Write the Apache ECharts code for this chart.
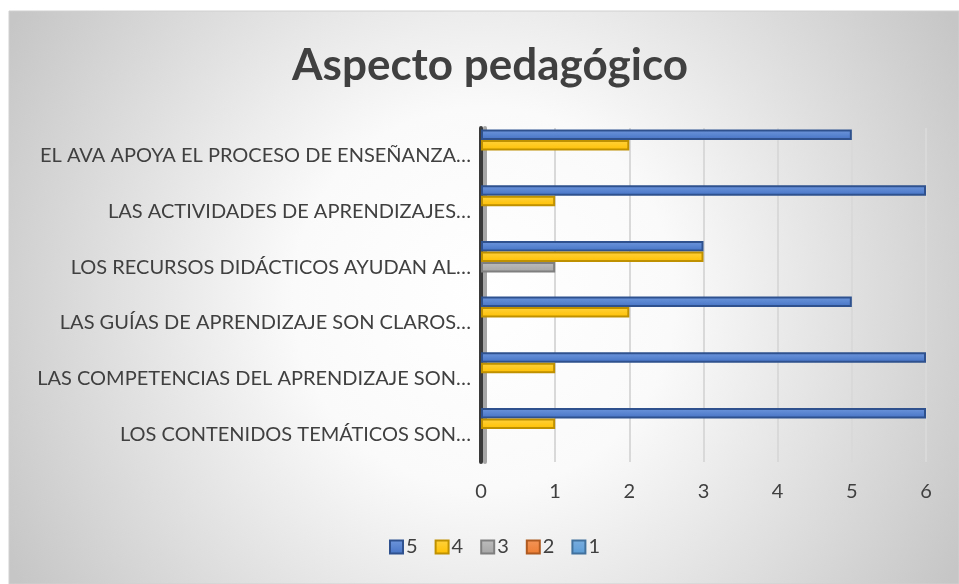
<!DOCTYPE html>
<html>
<head>
<meta charset="utf-8">
<title>Aspecto pedagógico</title>
<script src="https://cdn.jsdelivr.net/npm/echarts@6/dist/echarts.min.js"></script>
<style>
  html, body { margin: 0; padding: 0; background: #fff; }
  #chart { width: 959px; height: 584px; }
</style>
</head>
<body>
<div id="chart"></div>
<script>
// categories, bottom to top as the y axis draws them
const categories = [
  'LOS CONTENIDOS TEMÁTICOS SON…',
  'LAS COMPETENCIAS DEL APRENDIZAJE SON…',
  'LAS GUÍAS DE APRENDIZAJE SON CLAROS…',
  'LOS RECURSOS DIDÁCTICOS AYUDAN AL…',
  'LAS ACTIVIDADES DE APRENDIZAJES…',
  'EL AVA APOYA EL PROCESO DE ENSEÑANZA…'
];
const seriesNames = ['5', '4', '3', '2', '1'];
const values5 = [6, 6, 5, 3, 6, 5];
const values4 = [1, 1, 2, 3, 1, 2];
const values3 = [0, 0, 0, 1, 0, 0];
const values2 = [0, 0, 0, 0, 0, 0];
const values1 = [0, 0, 0, 0, 0, 0];
const xTicks = [0, 1, 2, 3, 4, 5, 6];

const FONT = 'Lato, "Open Sans", sans-serif';
const TEXT = '#404040';

// fill (top, bottom) and border for each series
const palette = [
  { top: '#6f97dc', bottom: '#4472c4', border: '#2f528f' },
  { top: '#ffd23f', bottom: '#ffc000', border: '#bf9000' },
  { top: '#bdbdbd', bottom: '#a5a5a5', border: '#7f7f7f' },
  { top: '#f3955a', bottom: '#ed7d31', border: '#ae5a21' },
  { top: '#7aaee0', bottom: '#5b9bd5', border: '#41719c' }
];
const allValues = [values5, values4, values3, values2, values1];

const chart = echarts.init(document.getElementById('chart'), null, { renderer: 'canvas' });

const series = seriesNames.map((name, i) => ({
  name,
  type: 'bar',
  // a zero bar draws nothing in the original, so drop its border
  data: allValues[i].map(v => (v === 0 ? { value: v, itemStyle: { borderWidth: 0 } } : v)),
  barWidth: 10.5,
  barGap: '0%',
  itemStyle: {
    color: new echarts.graphic.LinearGradient(0, 0, 0, 1, [
      { offset: 0, color: palette[i].top },
      { offset: 1, color: palette[i].bottom }
    ]),
    borderColor: palette[i].border,
    borderWidth: 2
  },
  emphasis: { disabled: true }
}));

chart.setOption({
  animation: false,
  backgroundColor: '#ffffff',
  graphic: [
    {
      type: 'rect',
      z: -10,
      silent: true,
      shape: { x: 9, y: 11, width: 950, height: 573 },
      style: {
        fill: new echarts.graphic.RadialGradient(0.5, 0.5, 0.95, [
          { offset: 0, color: '#ffffff' },
          { offset: 0.35, color: '#fafafa' },
          { offset: 1, color: '#c6c6c6' }
        ]),
        stroke: '#d0d0d0',
        lineWidth: 1
      }
    }
  ],
  title: {
    text: 'Aspecto pedagógico',
    left: 287,
    top: 39,
    textStyle: {
      color: TEXT,
      fontFamily: FONT,
      fontWeight: 'bold',
      fontSize: 44
    }
  },
  legend: {
    data: seriesNames,
    bottom: 22,
    left: 384,
    icon: 'rect',
    itemWidth: 13,
    itemHeight: 13,
    itemGap: 17,
    textStyle: { color: TEXT, fontFamily: FONT, fontSize: 20, padding: [0, 0, 0, -2] }
  },
  grid: {
    left: 481,
    right: 33,
    top: 128,
    bottom: 122
  },
  xAxis: {
    type: 'value',
    min: xTicks[0],
    max: xTicks[xTicks.length - 1],
    interval: 1,
    axisLine: { show: false },
    axisTick: { show: false },
    axisLabel: {
      color: TEXT,
      fontFamily: FONT,
      fontSize: 20,
      margin: 20
    },
    splitLine: { lineStyle: { color: '#d9d9d9', width: 2 } }
  },
  yAxis: {
    type: 'category',
    data: categories,
    axisLine: {
      show: true,
      lineStyle: {
        color: '#3a3a3a',
        width: 4,
        shadowColor: '#a6a6a6',
        shadowOffsetX: 4,
        shadowBlur: 0
      }
    },
    axisTick: { show: false },
    axisLabel: {
      color: TEXT,
      fontFamily: FONT,
      fontSize: 20,
      margin: 10
    },
    splitLine: { show: false }
  },
  series
});

window.addEventListener('resize', () => chart.resize());
</script>
</body>
</html>
